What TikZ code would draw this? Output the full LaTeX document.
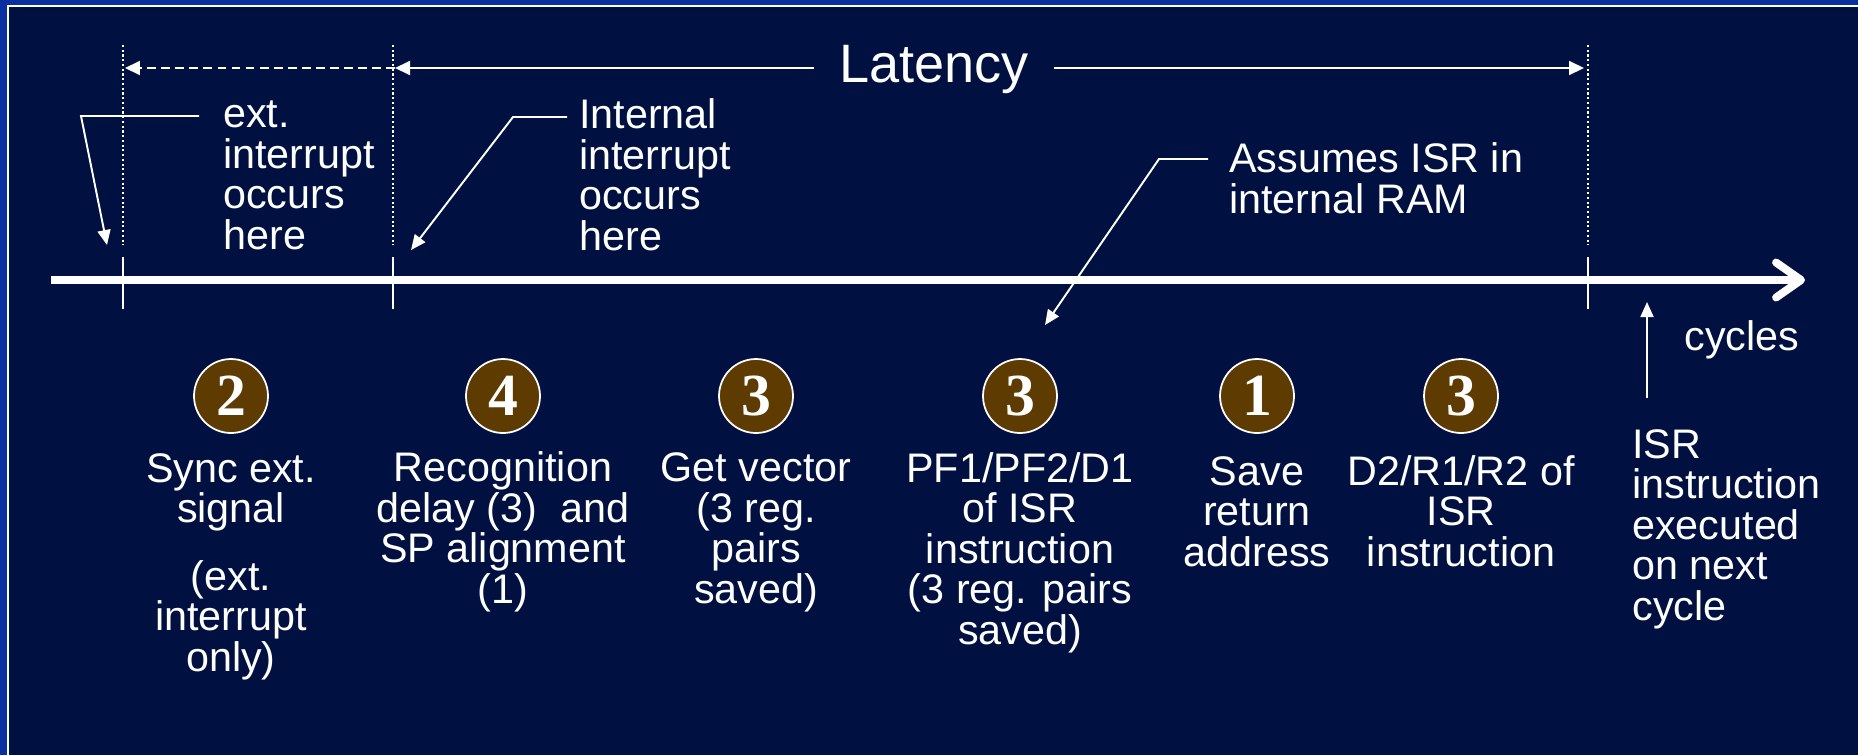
\documentclass[tikz,border=0pt]{standalone}
\usepackage{fontspec}
\setmainfont{Liberation Sans}
\newfontfamily\digitfont{Liberation Serif}
\usetikzlibrary{arrows.meta}
\definecolor{slidebg}{HTML}{001040}
\definecolor{slideedge}{HTML}{0A2FA0}
\definecolor{stepcol}{HTML}{5E3B00}

\tikzset{
	note/.style={text=white,inner sep=0pt,align=left,font=\fontsize{23.5}{23}\selectfont},
	lbl/.style={note,align=center},
	stepnum/.style={circle,fill=stepcol,draw=white,line width=1pt,minimum size=1.48cm,inner sep=0pt,
		text=white,font=\digitfont\bfseries\fontsize{34}{34}\selectfont},
	axis/.style={white,line width=4.5pt,-{Straight Barb[length=0.5cm,width=0.7cm,round]}},
	tick/.style={white,line width=1.4pt},
	guide/.style={white,line width=1.5pt,dash pattern=on 1.2pt off 1.5pt},
	leader/.style={white,line width=1.1pt,-{Triangle[length=0.3cm,width=0.26cm]}},
	dimarr/.style={white,line width=1.1pt,-{Triangle[length=0.3cm,width=0.28cm]}},
}

\begin{document}
\begin{tikzpicture}[x=0.02cm,y=-0.02cm]
% slide background
\fill[slidebg] (0,0) rectangle (1858,755);
\fill[slideedge] (0,0) rectangle (1858,5);
\fill[slideedge] (0,0) rectangle (7,755);
\fill[white] (7,5) rectangle (1858,7);
\fill[white] (7,5) rectangle (9,755);
\useasboundingbox (0,0) rectangle (1858,755);

% time axis
\coordinate (axL) at (51,280);
\coordinate (axR) at (1805,280);
\draw[axis] (axL) -- (axR);
\foreach \tx/\tn in {123/ext,393/int,1588/isr}{
	\coordinate (\tn-top) at (\tx,45);
	\coordinate (\tn-bot) at (\tx,245);
	\draw[tick] (\tx,257) -- (\tx,309);
	\draw[guide] (\tn-top) -- (\tn-bot);
	}

% latency span
\coordinate (extdim) at (125,68);
\coordinate (intdim) at (395,68);
\coordinate (isrdim) at (1584,68);
\node[text=white,inner xsep=0.5cm,inner ysep=0pt,anchor=base,font=\fontsize{30.8}{30.8}\selectfont] (lat) at (934,82) {Latency};
\draw[dimarr] (lat.west |- intdim) -- (intdim);
\draw[dimarr] (lat.east |- isrdim) -- (isrdim);
\draw[dimarr,dash pattern=on 5pt off 3pt] (intdim) -- (extdim);

% notes above the axis (anchor base = last line)
\node[note,anchor=base west] (extT) at (223,249) {ext.\\interrupt\\occurs\\here};
\coordinate (extK) at (81,116);
\coordinate (extP) at (107,245);
\draw[leader] ([xshift=-0.48cm]extT.west |- extK) -- (extK) -- (extP);

\node[note,anchor=base west] (intT) at (579,250) {Internal\\interrupt\\occurs\\here};
\coordinate (intK) at (513,117);
\coordinate (intP) at (411,250);
\draw[leader] ([xshift=-0.24cm]intT.west |- intK) -- (intK) -- (intP);

\node[note,anchor=base west] (ramT) at (1229,213) {Assumes ISR in\\internal RAM};
\coordinate (ramK) at (1159,159);
\coordinate (ramP) at (1045,325);
\draw[leader] ([xshift=-0.42cm]ramT.west |- ramK) -- (ramK) -- (ramP);

% cycle counts
\foreach \cx/\num/\ly/\txt [count=\i] in {
	231/2/671/{Sync ext.\\signal\\[0.54cm](ext.\\interrupt\\only)},
	503/4/603/{Recognition\\delay (3)\ \ and\\SP alignment\\(1)},
	756/3/603/{Get vector\\(3 reg.\\pairs\\saved)},
	1020/3/644/{PF1/PF2/D1\\of ISR\\instruction\\(3 reg. pairs\\saved)},
	1257/1/566/{Save\\return\\address},
	1461/3/566/{D2/R1/R2 of\\ISR\\instruction}%
	}{
	\node[stepnum] (c\i) at (\cx,396) {\num};
	\node[lbl,anchor=base] (t\i) at (\cx,\ly) {\txt};
	}

% next cycle
\node[note,anchor=base] (cyc) at (1742,350) {cycles};
\node[note,anchor=base west] (isrT) at (1632,620) {ISR\\instruction\\executed\\on next\\cycle};
\coordinate (upB) at (1647,398);
\coordinate (upT) at (1647,302);
\draw[leader] (upB) -- (upT);
\end{tikzpicture}
\end{document}
